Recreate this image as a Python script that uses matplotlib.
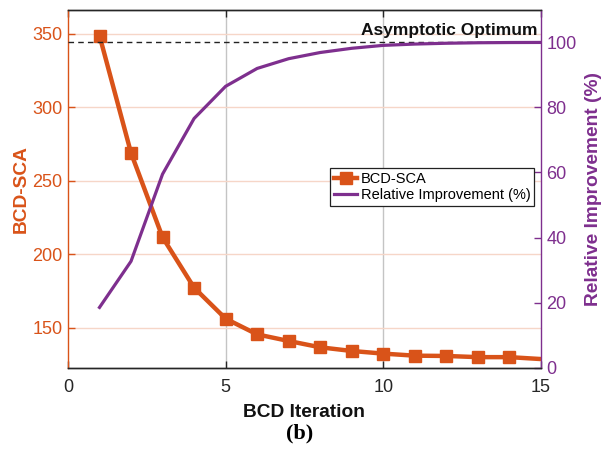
import matplotlib
matplotlib.use("Agg")
import matplotlib.pyplot as plt
from matplotlib.lines import Line2D

# Data
iterations = [1, 2, 3, 4, 5, 6, 7, 8, 9, 10, 11, 12, 13, 14, 15]
bcd_sca = [348.8, 268.9, 211.5, 177.2, 156.1, 145.4, 140.9, 136.6, 134.1,
           132.3, 130.9, 130.7, 129.9, 129.9, 128.6]
rel_improvement = [18.5, 32.7, 59.5, 76.6, 86.5, 92.0, 95.0, 96.9, 98.2,
                   99.1, 99.5, 99.75, 99.9, 99.97, 100.0]
optimum_pct = 100.0
x_ticks = [0, 5, 10, 15]
left_ticks = [150, 200, 250, 300, 350]
right_ticks = [0, 20, 40, 60, 80, 100]

ORANGE = "#D95319"
PURPLE = "#7E2F8E"
DARK = "#262626"

plt.rcParams["font.family"] = ["Liberation Sans", "DejaVu Sans"]

fig = plt.figure(figsize=(6.07, 4.51), dpi=100)
ax = fig.add_axes([0.112, 0.185, 0.779, 0.793])
ax2 = ax.twinx()

# Left axis: objective per iteration
ax.plot(iterations, bcd_sca, color=ORANGE, lw=3.2, marker="s", ms=8.5,
        markevery=slice(0, len(iterations) - 1), zorder=3)
ax.set_xlim(0, 15)
ax.set_ylim(122.8, 366.3)
ax.set_xticks(x_ticks)
ax.set_yticks(left_ticks)

# Grid: vertical grey, horizontal tinted with the left-axis colour
for xv in x_ticks[1:-1]:
    ax.axvline(xv, color="#c4c4c4", lw=1.0, zorder=0)
for yv in left_ticks:
    ax.axhline(yv, color="#f6d6c8", lw=1.0, zorder=0)

# Right axis: relative improvement
ax2.plot(iterations, rel_improvement, color=PURPLE, lw=2.3, zorder=3)
ax2.axhline(optimum_pct, color="#222222", lw=1.0, ls=(0, (4, 3)), zorder=2)
ax2.text(14.88, 102.3, "Asymptotic Optimum", ha="right", va="baseline",
         fontsize=12.5, fontweight="bold", color="#111111")
ax2.set_ylim(0, 110)
ax2.set_yticks(right_ticks)

# Spines and ticks
ax.spines["left"].set_color(ORANGE)
ax.spines["right"].set_visible(False)
ax2.spines["left"].set_visible(False)
ax2.spines["right"].set_color(PURPLE)
for a in (ax, ax2):
    a.spines["top"].set_color(DARK)
    a.spines["bottom"].set_color(DARK)
    for s in a.spines.values():
        s.set_linewidth(1.0)

ax.tick_params(axis="x", direction="in", length=5, width=1, colors=DARK,
               labelsize=13, pad=8, top=True)
ax.tick_params(axis="y", direction="in", length=5, width=1, colors=ORANGE,
               labelsize=13, pad=4)
ax2.tick_params(axis="y", direction="in", length=5, width=1, colors=PURPLE,
                labelsize=13, pad=4)

ax.set_xlabel("BCD Iteration", fontsize=13.8, fontweight="bold", color="#111111",
              labelpad=6)
ax.set_ylabel("BCD-SCA", fontsize=13.8, fontweight="bold", color=ORANGE,
              labelpad=2)
ax2.set_ylabel("Relative Improvement (%)", fontsize=13.8, fontweight="bold",
               color=PURPLE, labelpad=6)

# Legend
handles = [
    Line2D([], [], color=ORANGE, lw=3.2, marker="s", ms=8.5),
    Line2D([], [], color=PURPLE, lw=2.3),
]
leg = ax2.legend(handles, ["BCD-SCA", "Relative Improvement (%)"],
                 loc="upper right", bbox_to_anchor=(0.986, 0.557),
                 fontsize=10.5, frameon=True, fancybox=False, framealpha=1,
                 edgecolor="#222222", handlelength=1.6, handletextpad=0.25,
                 borderpad=0.25, labelspacing=0.15, borderaxespad=0)
leg.get_frame().set_linewidth(0.9)

fig.text(0.493, 1 - 433 / 451, "(b)", ha="center", va="center",
         fontsize=16, fontweight="bold", family="Liberation Serif")

fig.savefig("out.png", dpi=100)
